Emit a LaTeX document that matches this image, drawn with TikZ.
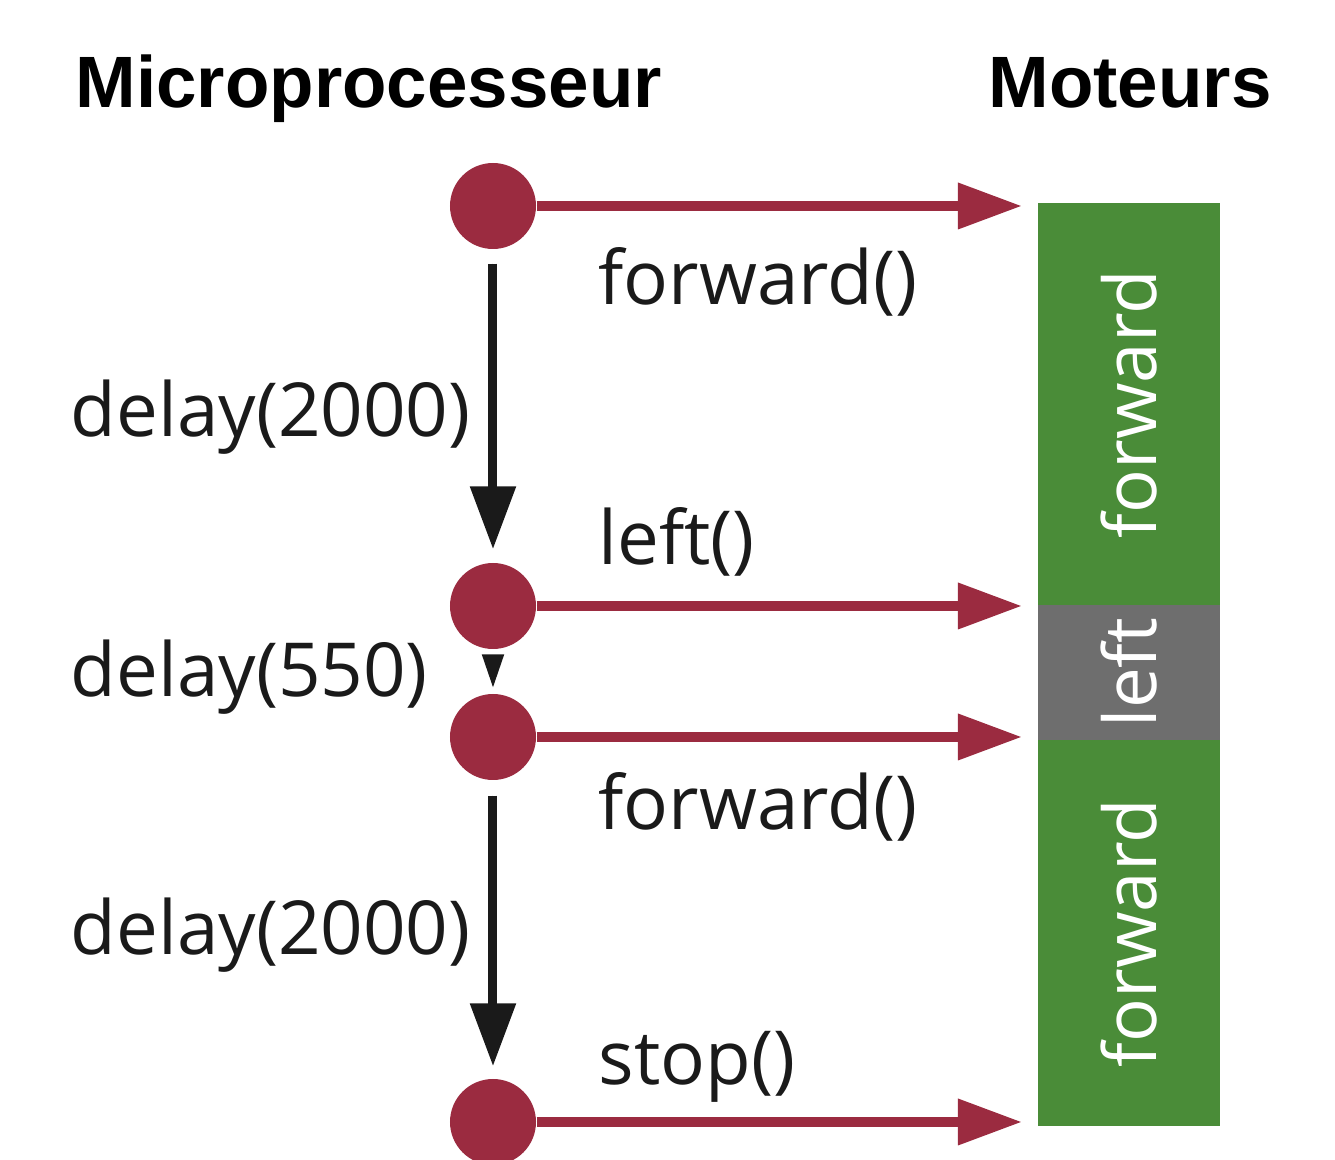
\documentclass[tikz,border=0pt]{standalone}
\usepackage{fontspec}
\setmainfont{Open Sans}
\newfontfamily\headfont{Liberation Sans}
\usepackage{xcolor}
\usepackage{tikz}
\usetikzlibrary{arrows.meta}
\definecolor{dotred}{HTML}{9B2B40}
\definecolor{motgreen}{HTML}{4A8C38}
\definecolor{motgray}{HTML}{6E6E6E}
\definecolor{ink}{HTML}{1A1A1A}

\begin{document}
\begin{tikzpicture}[
    dot/.style={circle,fill=dotred,inner sep=0pt,minimum size=0.86cm},
    call/.style={draw=dotred,fill=dotred,line width=0.10cm,-{Triangle[length=0.64cm,width=0.44cm]}},
    wait/.style={draw=ink,fill=ink,line width=0.09cm,-{Triangle[length=0.63cm,width=0.44cm]}},
    lbl/.style={inner sep=0pt,text=ink,font=\fontsize{21.2}{25}\selectfont},
    head/.style={inner sep=0pt,font=\headfont\bfseries\fontsize{20.7}{24}\selectfont},
    seg/.style={inner sep=0pt,minimum width=1.82cm},
    segtxt/.style={inner sep=0pt,rotate=90,text=white,font=\fontsize{20.7}{24}\selectfont}
  ]
    \useasboundingbox (0,0) rectangle (13.35,11.6);
    \node[head,anchor=base west] (mp) at (0.75,10.52) {Microprocesseur};
    \node[head,anchor=base west] (mot) at (9.88,10.52) {Moteurs};

    \node[seg,fill=motgreen,minimum height=4.02cm] (fw1) at (11.29,7.56) {};
    \node[seg,fill=motgray,minimum height=1.35cm] (lf) at (11.29,4.875) {};
    \node[seg,fill=motgreen,minimum height=3.86cm] (fw2) at (11.29,2.27) {};
    \node[segtxt] at (fw1.center) {forward};
    \node[segtxt] at (lf.center) {left};
    \node[segtxt] at (fw2.center) {forward};

    \node[dot] (p1) at (4.93,9.54) {};
    \node[dot] (p2) at (4.93,5.54) {};
    \node[dot] (p3) at (4.93,4.23) {};
    \node[dot] (p4) at (4.93,0.38) {};
    \coordinate (t1) at (10.22,9.54);
    \coordinate (t2) at (10.22,5.54);
    \coordinate (t3) at (10.22,4.23);
    \coordinate (t4) at (10.22,0.38);

    \draw[call] (p1) -- (t1);
    \draw[call] (p2) -- (t2);
    \draw[call] (p3) -- (t3);
    \draw[call] (p4) -- (t4);

    \draw[wait,shorten <=0.14cm,shorten >=0.13cm] (p1) -- (p2);
    \draw[draw=ink,fill=ink,line width=0.02cm,-{Triangle[length=0.33cm,width=0.22cm]},shorten <=0.06cm,shorten >=0.06cm] (p2) -- (p3);
    \draw[wait,shorten <=0.15cm,shorten >=0.12cm] (p3) -- (p4);

    \node[lbl,anchor=base west] (c1) at (5.98,8.55) {forward()};
    \node[lbl,anchor=base west] (c2) at (5.98,5.95) {left()};
    \node[lbl,anchor=base west] (c3) at (5.98,3.30) {forward()};
    \node[lbl,anchor=base west] (c4) at (5.98,0.75) {stop()};
    \node[lbl,anchor=base west] (d1) at (0.70,7.23) {delay(2000)};
    \node[lbl,anchor=base west] (d2) at (0.70,4.63) {delay(550)};
    \node[lbl,anchor=base west] (d3) at (0.70,2.05) {delay(2000)};
\end{tikzpicture}
\end{document}
